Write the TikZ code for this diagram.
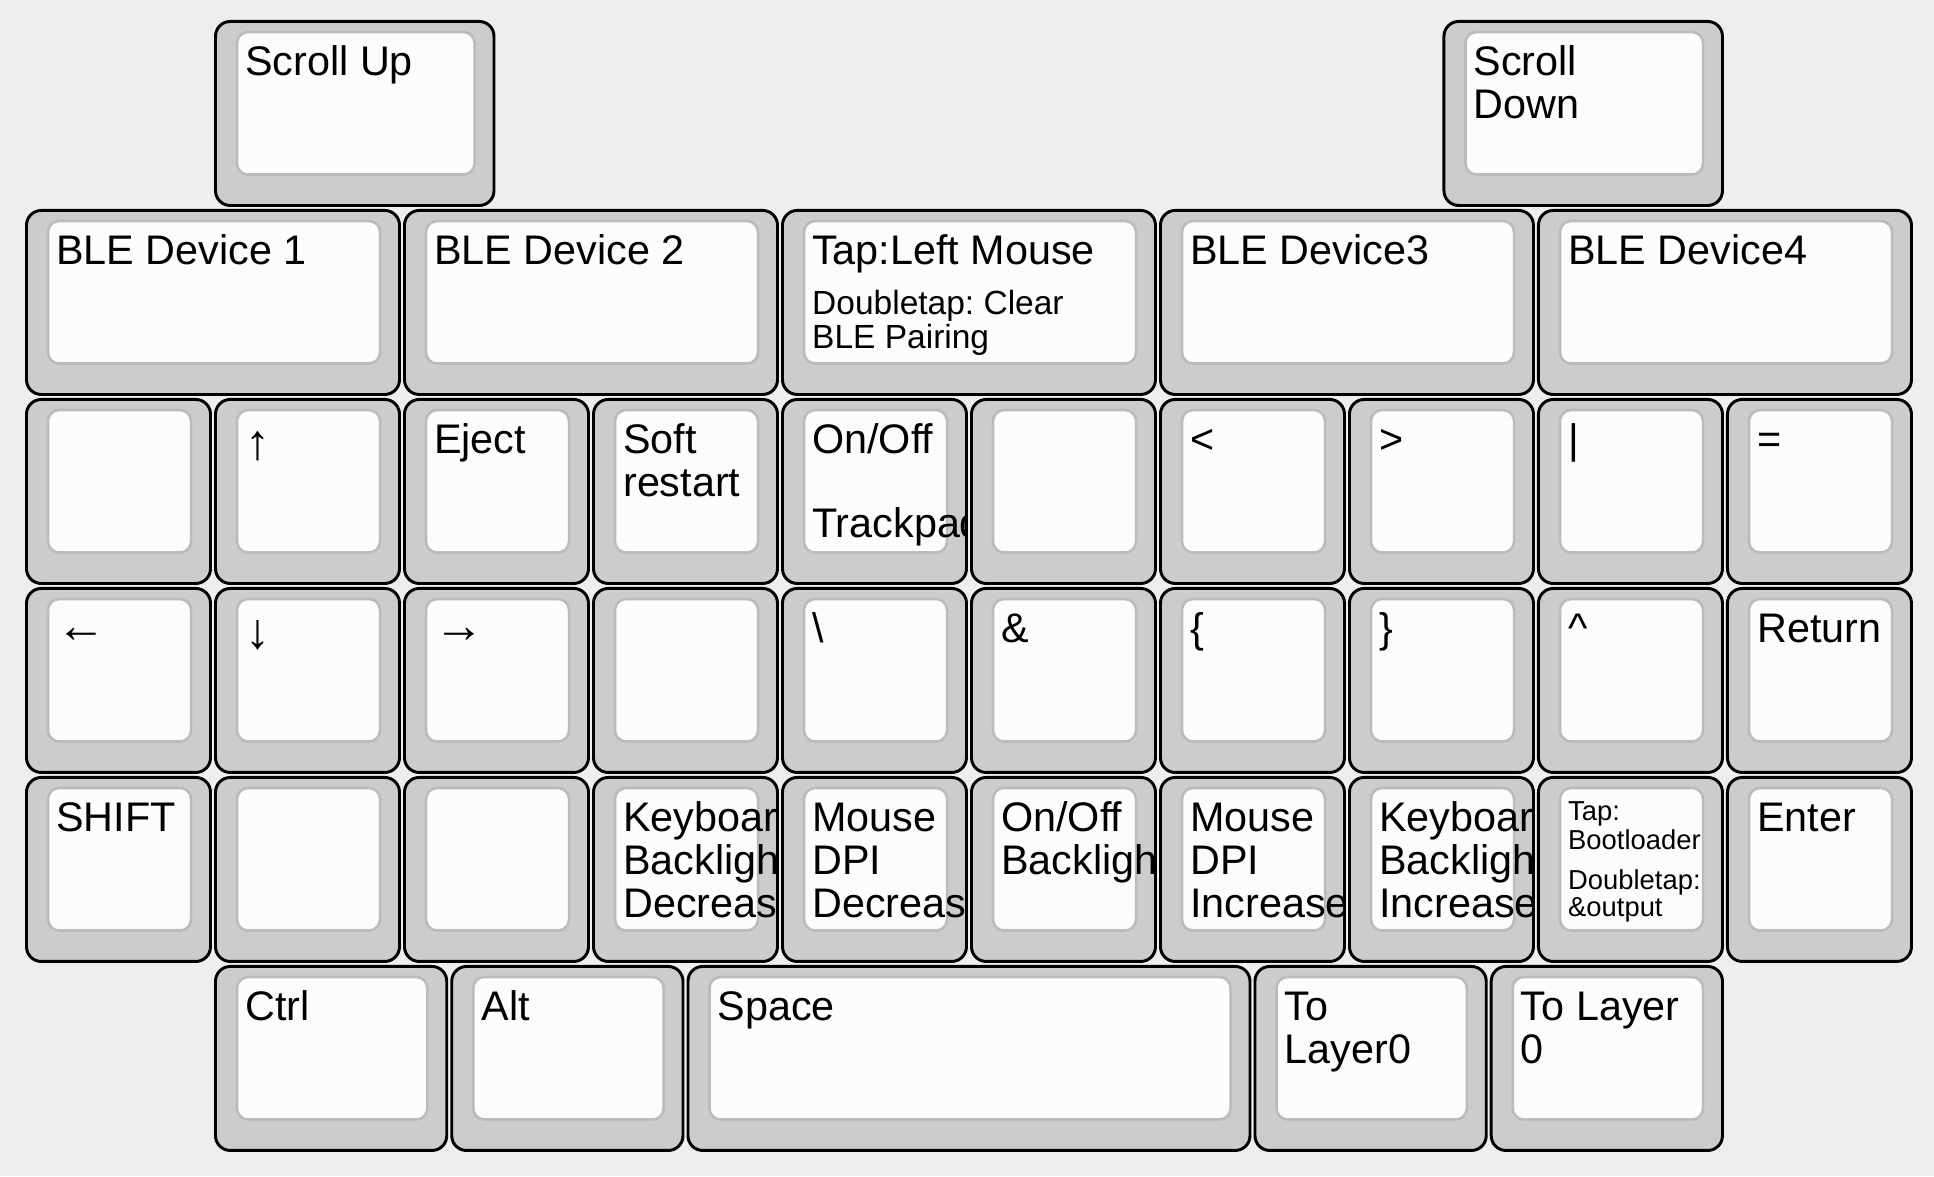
\documentclass[tikz,border=0pt]{standalone}
\usepackage{fontspec}
\setmainfont{Liberation Sans}
\usetikzlibrary{calc}
\definecolor{Backdrop}{HTML}{EEEEEE}
\definecolor{CapSide}{HTML}{CCCCCC}
\definecolor{CapTop}{HTML}{FCFCFC}
\definecolor{CapRim}{HTML}{BBBBBB}
\tikzset{
  capside/.style={fill=CapSide,rounded corners=4pt},
  capedge/.style={draw=black,line width=0.8pt,rounded corners=4pt},
  captop/.style={draw=CapRim,fill=CapTop,line width=0.7pt,rounded corners=3pt},
  legend/.style={anchor=base west,inner sep=0pt,text=black,font=\fontsize{11.2}{11.65}\selectfont},
  midlegend/.style={legend,font=\fontsize{9.08}{9.4}\selectfont},
  smalllegend/.style={legend,font=\fontsize{7.42}{7.4}\selectfont},
  smalltop/.style={smalllegend,yshift=2.98pt}
}
\newcommand{\arrowkey}[2][0pt]{\raisebox{#1}{\fontsize{13.5}{13.5}\selectfont #2}}
\newcommand{\capstack}[1]{\begin{tabular}[t]{@{}l@{}}#1\end{tabular}}
% key: [legend style]{name}{x}{y}{width}{top legend}{extra legends}
\newcommand{\keycap}[7][legend]{%
  \fill[capside] (#3+0.0132,#4+0.0132) rectangle (#3+#5-0.0132,#4+0.9868);
  \draw[captop] (#3+0.127,#4+0.069) rectangle (#3+#5-0.116,#4+0.823);
  \coordinate (#2) at (#3,#4);
  \begin{scope}
    \clip[rounded corners=4pt] (#3+0.02,#4+0.02) rectangle (#3+#5-0.02,#4+0.98);
    \node[#1] (#2-tl) at (#3+0.1667,#4+0.3016) {\capstack{#6}};
    #7
  \end{scope}
  \draw[capedge] (#3+0.0132,#4+0.0132) rectangle (#3+#5-0.0132,#4+0.9868);
}

\begin{document}
\frenchspacing
\begin{tikzpicture}[x=1.8cm,y=-1.8cm]
  \fill[Backdrop] (-0.127,-0.1005) rectangle (10.106,6.122);
  \useasboundingbox (-0.127,-0.1005) rectangle (10.106,6.122);

  \keycap{scrollup}{1}{0}{1.5}{Scroll Up}{}
  \keycap{scrolldown}{7.5}{0}{1.5}{Scroll\\Down}{}

  \keycap{ble1}{0}{1}{2}{BLE Device 1}{}
  \keycap{ble2}{2}{1}{2}{BLE Device 2}{}
  \keycap{tap}{4}{1}{2}{Tap:Left Mouse}{%
    \node[midlegend] (tap-ml) at ($(tap)+(0.1667,0.561)$) {\capstack{Doubletap: Clear\\BLE Pairing}};}
  \keycap{ble3}{6}{1}{2}{BLE Device3}{}
  \keycap{ble4}{8}{1}{2}{BLE Device4}{}

  \keycap{navblank}{0}{2}{1}{}{}
  \keycap{up}{1}{2}{1}{\arrowkey[-1.5pt]{↑}}{}
  \keycap{eject}{2}{2}{1}{Eject}{}
  \keycap{reboot}{3}{2}{1}{Soft\\restart}{}
  \keycap{pad}{4}{2}{1}{On/Off}{%
    \node[legend] (pad-bl) at ($(pad)+(0.1667,0.743)$) {Trackpad};}
  \keycap{midblank}{5}{2}{1}{}{}
  \keycap{lt}{6}{2}{1}{<}{}
  \keycap{gt}{7}{2}{1}{>}{}
  \keycap{pipe}{8}{2}{1}{|}{}
  \keycap{eq}{9}{2}{1}{=}{}

  \keycap{left}{0}{3}{1}{\arrowkey{←}}{}
  \keycap{down}{1}{3}{1}{\arrowkey[-1.5pt]{↓}}{}
  \keycap{right}{2}{3}{1}{\arrowkey{→}}{}
  \keycap{rowblank}{3}{3}{1}{}{}
  \keycap{bslash}{4}{3}{1}{\textbackslash}{}
  \keycap{amp}{5}{3}{1}{\&}{}
  \keycap{lbrace}{6}{3}{1}{\{}{}
  \keycap{rbrace}{7}{3}{1}{\}}{}
  \keycap{caret}{8}{3}{1}{\textasciicircum}{}
  \keycap{ret}{9}{3}{1}{Return}{}

  \keycap{shift}{0}{4}{1}{SHIFT}{}
  \keycap{blanka}{1}{4}{1}{}{}
  \keycap{blankb}{2}{4}{1}{}{}
  \keycap{kbldec}{3}{4}{1}{Keyboard\\Backlight\\Decrease}{}
  \keycap{dpidec}{4}{4}{1}{Mouse\\DPI\\Decrease}{}
  \keycap{bltoggle}{5}{4}{1}{On/Off\\Backlight}{}
  \keycap{dpiinc}{6}{4}{1}{Mouse\\DPI\\Increase}{}
  \keycap{kblinc}{7}{4}{1}{Keyboard\\Backlight\\Increase}{}
  \keycap[smalltop]{boot}{8}{4}{1}{Tap:\\Bootloader}{%
    \node[smalllegend] (boot-ml) at ($(boot)+(0.1667,0.605)$) {\capstack{Doubletap:\\\&output}};}
  \keycap{enter}{9}{4}{1}{Enter}{}

  \keycap{ctrl}{1}{5}{1.25}{Ctrl}{}
  \keycap{alt}{2.25}{5}{1.25}{Alt}{}
  \keycap{space}{3.5}{5}{3}{Space}{}
  \keycap{layer}{6.5}{5}{1.25}{To\\Layer0}{}
  \keycap{layerb}{7.75}{5}{1.25}{To Layer\\0}{}
\end{tikzpicture}
\end{document}
